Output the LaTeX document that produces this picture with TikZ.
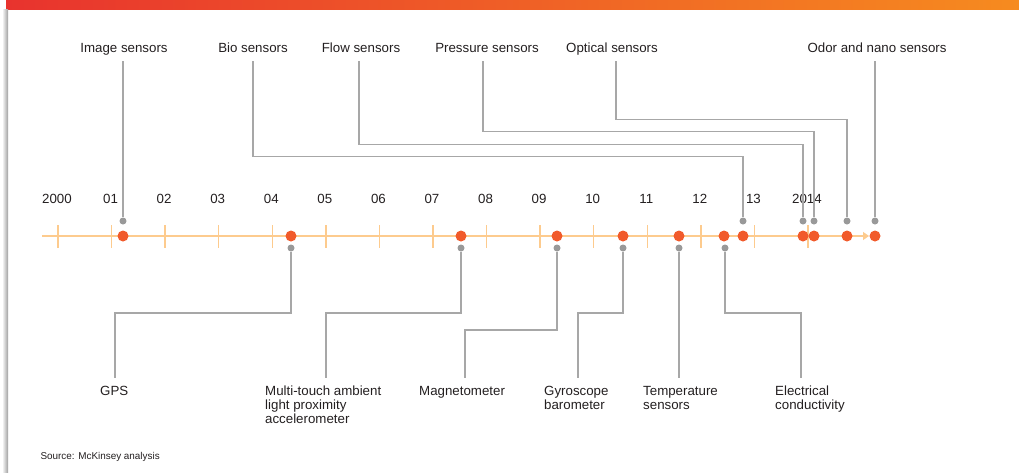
\documentclass[tikz,border=0pt]{standalone}
\usepackage{fontspec}
\setmainfont{Liberation Sans}
\usetikzlibrary{arrows.meta}

\definecolor{barred}{HTML}{E8332E}
\definecolor{barorange}{HTML}{F68B1F}
\definecolor{tlorange}{HTML}{FDCB8E}
\definecolor{dotorange}{HTML}{F15A2B}
\definecolor{dotgray}{HTML}{999999}
\definecolor{linegray}{HTML}{A7A7A7}
\definecolor{txt}{HTML}{231F20}

\tikzset{
    lbl/.style={font=\fontsize{13.3}{13.8}\selectfont, text=txt},
    toplbl/.style={lbl, anchor=base, inner xsep=0pt, inner ysep=9pt, text depth=0pt},
    botlbl/.style={lbl, anchor=north west, align=left, inner sep=0pt},
    yearlbl/.style={lbl, anchor=base},
    tl/.style={draw=tlorange, line width=1.3pt},
    odot/.style={circle, fill=dotorange, inner sep=0pt, minimum size=11pt},
    gdot/.style={circle, fill=dotgray, inner sep=0pt, minimum size=7pt},
    conn/.style={draw=linegray, line width=1.1pt}
}

\begin{document}
\begin{tikzpicture}[x=1pt,y=-1pt]
            \useasboundingbox (0,0) rectangle (1019,472);
            \shade[left color=barred, right color=barorange] (6,0) rectangle (1019,9);
            \shade[left color=white, right color=gray!75] (2,9) rectangle (8,472);

            % timeline
            \draw[tl, -{Triangle[length=6pt,width=8pt]}] (42,236) -- (869,236);
            \foreach \i/\yr in {0/2000,1/01,2/02,3/03,4/04,5/05,6/06,7/07,8/08,9/09,10/10,11/11,12/12,13/13,14/2014}
            {
                \draw[tl] (58+\i*53.57,225) -- ++(0,23);
                \node[yearlbl] (yr\i) at (57+\i*53.57,203) {\yr};
            }
            \foreach \x [count=\n] in {123,291,461,557,623,679,724,743,803,814,847,875}
            {
                \node[odot] (d\n) at (\x,236) {};
            }

            % sensors above the line
            \node[toplbl] (imgsens) at (124,52) {Image sensors};
            \node[toplbl] (biosens) at (253,52) {Bio sensors};
            \node[toplbl] (flowsens) at (361,52) {Flow sensors};
            \node[toplbl] (pressens) at (487,52) {Pressure sensors};
            \node[toplbl] (optsens) at (612,52) {Optical sensors};
            \node[toplbl] (odorsens) at (877,52) {Odor and nano sensors};

            \node[gdot] (g-img) at (123,221) {};
            \node[gdot] (g-bio) at (743,221) {};
            \node[gdot] (g-flow) at (803,221) {};
            \node[gdot] (g-pres) at (814,221) {};
            \node[gdot] (g-opt) at (847,221) {};
            \node[gdot] (g-odor) at (875,221) {};

            \draw[conn] (imgsens.south -| g-img) -- (g-img);
            \draw[conn] (biosens.south) -- ++(0,95) -| (g-bio);
            \draw[conn] ([xshift=-2pt]flowsens.south) -- ++(0,83) -| (g-flow);
            \draw[conn] ([xshift=-4pt]pressens.south) -- ++(0,70) -| (g-pres);
            \draw[conn] ([xshift=4pt]optsens.south) -- ++(0,58) -| (g-opt);
            \draw[conn] (odorsens.south -| g-odor) -- (g-odor);

            % sensors below the line
            \node[botlbl] (gps) at (100,386) {GPS};
            \node[botlbl] (multi) at (265,386) {Multi-touch ambient\\light proximity\\accelerometer};
            \node[botlbl] (magn) at (419,386) {Magnetometer};
            \node[botlbl] (gyro) at (544,386) {Gyroscope\\barometer};
            \node[botlbl] (temp) at (643,386) {Temperature\\sensors};
            \node[botlbl] (elec) at (775,386) {Electrical\\conductivity};

            \node[gdot] (g-gps) at (291,248) {};
            \node[gdot] (g-multi) at (461,248) {};
            \node[gdot] (g-magn) at (557,248) {};
            \node[gdot] (g-gyro) at (623,248) {};
            \node[gdot] (g-temp) at (679,248) {};
            \node[gdot] (g-elec) at (725,248) {};

            \draw[conn, shorten >=8pt] (g-gps) -- ++(0,65) -| ([xshift=15pt]gps.north west);
            \draw[conn, shorten >=8pt] (g-multi) -- ++(0,65) -| ([xshift=61pt]multi.north west);
            \draw[conn, shorten >=8pt] (g-magn) -- ++(0,82) -| ([xshift=46pt]magn.north west);
            \draw[conn, shorten >=8pt] (g-gyro) -- ++(0,65) -| ([xshift=34pt]gyro.north west);
            \draw[conn, shorten >=8pt] (g-temp) -- (g-temp |- temp.north);
            \draw[conn, shorten >=8pt] (g-elec) -- ++(0,65) -| ([xshift=26pt]elec.north west);

            \node[anchor=base west, font=\fontsize{9.9}{11}\selectfont, text=txt] (src) at (37,459) {Source: McKinsey analysis};
\end{tikzpicture}
\end{document}
